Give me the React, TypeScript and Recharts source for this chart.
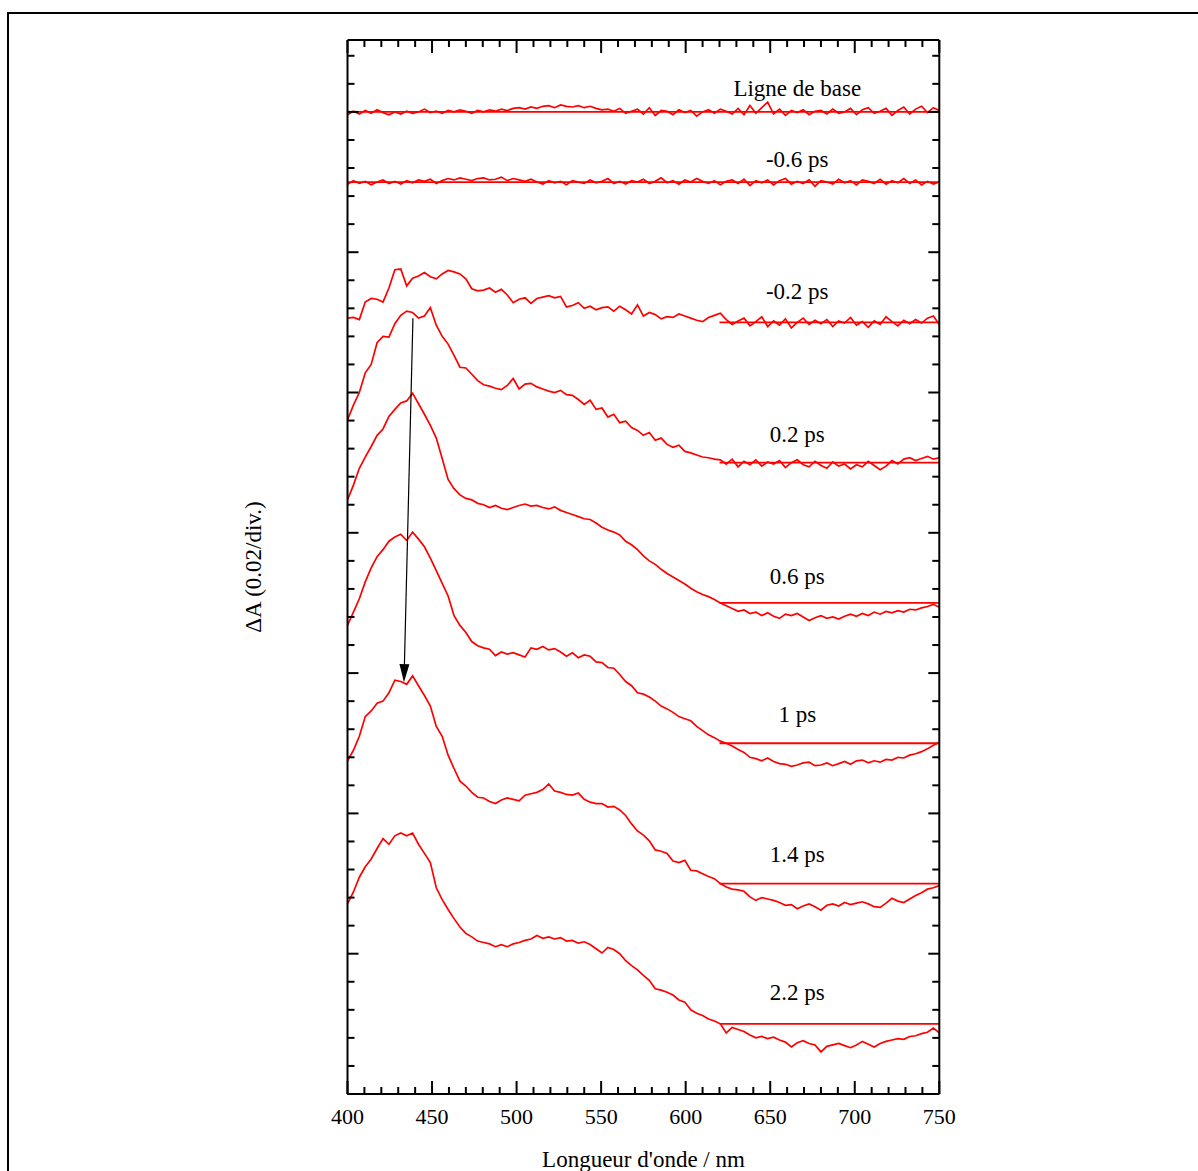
import { Line, LineChart, ReferenceDot, ReferenceLine, XAxis, YAxis } from 'recharts'

// Transient absorption spectra, stacked with a 0.02 offset per delay.
// Values in mOD; offsets in ΔA.

const FONT = '"Liberation Serif", "Times New Roman", serif'
const RED = '#ff0000'

const WL = [
  400, 403.5, 407, 410.5, 414, 417.5, 421, 424.5, 428, 431.5,
  435, 438.5, 442, 445.5, 449, 452.5, 456, 459.5, 463, 466.5,
  470, 473.5, 477, 480.5, 484, 487.5, 491, 494.5, 498, 501.5,
  505, 508.5, 512, 515.5, 519, 522.5, 526, 529.5, 533, 536.5,
  540, 543.5, 547, 550.5, 554, 557.5, 561, 564.5, 568, 571.5,
  575, 578.5, 582, 585.5, 589, 592.5, 596, 599.5, 603, 606.5,
  610, 613.5, 617, 620.5, 624, 627.5, 631, 634.5, 638, 641.5,
  645, 648.5, 652, 655.5, 659, 662.5, 666, 669.5, 673, 676.5,
  680, 683.5, 687, 690.5, 694, 697.5, 701, 704.5, 708, 711.5,
  715, 718.5, 722, 725.5, 729, 732.5, 736, 739.5, 743, 746.5,
  750,
]

const BASELINE = [
  -0.4, 0.1, -0.3, 0.2, -0.2, 0.3, -0.1, -0.4, 0.0, -0.3,
  0.1, -0.2, 0.0, 0.4, -0.1, 0.1, -0.2, 0.2, 0.0, 0.3,
  0.1, -0.2, 0.2, 0.0, 0.3, 0.1, 0.4, 0.2, 0.5, 0.6,
  0.4, 0.7, 0.5, 0.8, 0.9, 0.6, 1.0, 0.8, 0.7, 0.9,
  0.6, 0.8, 0.5, 0.3, 0.4, 0.1, 0.5, -0.2, 0.1, 0.4,
  -0.3, 0.6, -0.5, 0.2, 0.1, -0.4, 0.3, -0.1, 0.2, -0.6,
  0.0, 0.3, -0.2, 0.4, 0.1, -0.3, 0.5, -0.4, 0.9, -0.2,
  0.6, 1.4, -0.3, 0.4, -0.5, 0.2, -0.1, 0.3, -0.4, 0.1,
  0.2, -0.3, 0.4, -0.2, 0.0, 0.5, -0.4, 0.3, 0.6, -0.2,
  0.1, 0.5, -0.5, 0.2, 0.7, -0.3, 0.4, 0.8, -0.1, 0.6,
  0.2,
]

const M06 = [
  -0.3, 0.2, -0.2, 0.1, -0.4, 0.0, 0.3, -0.2, 0.1, -0.3,
  0.2, -0.1, 0.3, 0.1, 0.4, -0.2, 0.2, 0.5, 0.3, 0.6,
  0.4, 0.2, 0.5, 0.6, 0.3, 0.4, 0.7, 0.2, 0.5, 0.3,
  0.1, 0.4, 0.0, -0.3, 0.2, -0.1, 0.1, -0.4, 0.2, 0.0,
  -0.2, 0.3, -0.1, 0.1, 0.5, -0.2, 0.1, -0.3, 0.2, 0.0,
  0.4, -0.2, 0.1, 0.6, -0.1, 0.2, -0.3, 0.3, 0.0, 0.5,
  0.1, -0.2, 0.2, -0.4, 0.1, 0.3, -0.2, 0.4, -0.5, 0.2,
  -0.1, 0.3, -0.4, 0.2, 0.5, -0.3, 0.1, -0.2, 0.3, -0.6,
  0.2, 0.0, -0.3, 0.4, -0.1, 0.2, -0.4, 0.3, 0.1, -0.2,
  0.4, -0.3, 0.2, -0.1, 0.5, -0.2, 0.3, -0.4, 0.1, -0.3,
  0.0,
]

const M02 = [
  0.6, 0.7, 0.4, 2.9, 3.4, 3.3, 2.9, 4.9, 7.5, 7.6,
  5.2, 6.3, 6.6, 7.1, 6.5, 6.2, 6.9, 7.4, 7.2, 6.9,
  6.2, 4.8, 4.5, 4.6, 4.9, 4.3, 4.7, 3.9, 2.8, 3.3,
  3.5, 2.7, 3.4, 3.6, 3.8, 3.5, 3.7, 2.2, 2.4, 2.8,
  2.0, 2.3, 1.8, 2.1, 2.2, 1.6, 2.3, 1.8, 1.2, 2.5,
  0.9, 1.4, 1.1, 0.5, 0.8, 0.7, 1.2, 0.9, 0.6, 0.3,
  0.1, 0.7, 1.0, 1.3, 0.4, -0.3, 0.2, 0.6, -0.5, 0.1,
  0.8, -0.6, 0.2, -0.4, 0.5, -0.8, 0.0, 0.6, -0.3, 0.3,
  -0.2, 0.4, -0.6, 0.2, -0.1, 0.7, -0.4, 0.1, -0.7, 0.2,
  -0.3, 0.8, 0.1, -0.5, 0.3, -0.2, 0.4, -0.1, 0.6, 0.9,
  -0.3,
]

const P02 = [
  6.1, 8.2, 10.0, 12.8, 14.0, 17.1, 18.0, 17.9, 19.8, 21.0,
  21.6, 21.4, 20.6, 20.9, 22.1, 19.6, 18.0, 16.9, 15.3, 13.6,
  13.5, 12.6, 11.7, 11.1, 10.9, 10.6, 10.4, 11.0, 12.0, 10.5,
  11.2, 11.3, 10.8, 10.5, 10.2, 10.0, 10.3, 9.7, 9.6, 9.0,
  8.3, 8.9, 7.6, 7.8, 6.5, 6.9, 5.7, 5.9, 5.0, 4.6,
  3.9, 4.3, 3.2, 3.5, 2.6, 2.2, 2.5, 1.6, 1.4, 1.1,
  0.8, 0.7, 0.5, 0.4, -0.2, 0.5, -0.6, 0.2, -0.3, 0.4,
  -0.5, 0.1, -0.2, 0.3, -0.7, 0.0, 0.4, -0.3, -0.6, 0.2,
  -0.4, -0.8, 0.1, -0.5, -0.2, -0.9, -0.3, -0.6, 0.2, -0.4,
  -1.0, -0.5, 0.3, -0.2, 0.5, 0.7, 0.3, 0.6, 0.9, 0.5,
  0.7,
]

const P06 = [
  14.7, 16.8, 19.2, 20.8, 22.3, 23.9, 24.8, 26.6, 27.6, 28.5,
  28.8, 29.9, 28.4, 26.9, 25.3, 23.5, 20.6, 17.6, 16.3, 15.4,
  14.9, 14.7, 14.2, 14.0, 13.6, 13.9, 13.5, 13.3, 13.6, 13.9,
  14.1, 13.8, 13.9, 13.6, 13.4, 13.7, 13.2, 12.9, 12.6, 12.3,
  12.0, 11.9, 11.4, 10.8, 10.4, 10.1, 9.7, 8.8, 8.3, 7.6,
  6.7, 6.0, 5.5, 4.8, 4.2, 3.7, 3.2, 2.7, 2.1, 1.6,
  1.2, 0.9, 0.5, 0.0, -0.4, -0.8, -1.2, -1.0, -1.5, -1.3,
  -1.8, -1.4, -1.9, -2.2, -1.6, -1.8, -1.5, -2.0, -2.5, -2.1,
  -1.8, -2.2, -2.0, -2.3, -1.9, -1.6, -1.9, -1.5, -1.8, -1.3,
  -1.6, -1.2, -1.4, -1.1, -1.3, -0.9, -1.0, -0.7, -0.5, -0.2,
  -0.6,
]

const P10 = [
  16.8, 18.7, 20.6, 23.0, 25.0, 26.6, 27.6, 28.8, 29.4, 29.8,
  28.9, 30.1, 29.1, 28.0, 26.4, 24.6, 22.8, 21.0, 18.2, 16.8,
  15.8, 14.5, 13.9, 13.6, 13.4, 12.5, 13.0, 12.7, 12.9, 12.6,
  12.3, 13.6, 13.4, 13.8, 13.3, 13.5, 13.0, 12.4, 12.9, 12.2,
  12.6, 12.4, 11.6, 11.5, 10.8, 10.7, 9.8, 8.8, 8.2, 7.2,
  7.0, 6.6, 6.0, 5.3, 4.9, 4.4, 3.8, 3.5, 3.2, 2.4,
  1.8, 1.2, 0.8, 0.3, 0.0, -0.4, -0.9, -1.3, -2.0, -2.2,
  -2.5, -2.1, -2.6, -2.9, -3.0, -3.3, -3.1, -2.8, -2.7, -3.2,
  -3.1, -2.8, -3.2, -2.9, -2.6, -3.0, -2.5, -2.4, -2.8, -2.5,
  -2.7, -2.3, -2.4, -2.0, -2.1, -1.7, -1.5, -1.2, -0.8, -0.3,
  0.1,
]

const P14 = [
  17.5, 19.0, 21.0, 23.8, 24.6, 25.7, 26.0, 27.2, 29.0, 28.8,
  28.4, 29.6, 28.2, 26.8, 25.3, 22.4, 21.0, 18.3, 16.4, 14.6,
  13.9, 13.0, 12.3, 12.2, 11.7, 11.4, 11.9, 12.2, 12.0, 11.8,
  12.6, 12.8, 13.0, 13.4, 14.2, 13.2, 13.0, 12.7, 12.6, 12.9,
  12.0, 11.6, 11.4, 11.4, 10.9, 11.0, 10.5, 9.7, 8.5, 7.5,
  6.9, 6.1, 4.8, 4.6, 4.3, 3.2, 3.0, 3.3, 1.9, 1.8,
  1.4, 1.0, 0.7, 0.0, -0.5, -0.8, -0.9, -1.1, -1.9, -2.4,
  -2.0, -2.2, -2.4, -2.7, -3.1, -3.0, -3.6, -3.2, -2.9, -3.3,
  -3.8, -3.1, -2.9, -3.2, -2.7, -3.0, -2.8, -2.6, -2.9, -3.3,
  -3.4, -2.8, -2.1, -2.5, -2.7, -2.2, -1.7, -1.3, -0.8, -0.6,
  -0.3,
]

const P22 = [
  17.1, 18.8, 20.9, 22.4, 23.5, 25.0, 26.4, 25.6, 26.8, 27.2,
  26.8, 27.2, 25.6, 24.3, 23.0, 19.4, 17.7, 16.3, 15.0, 13.8,
  12.9, 12.4, 11.8, 11.6, 11.4, 11.0, 11.3, 11.0, 11.4, 11.6,
  11.9, 12.1, 12.6, 12.2, 12.4, 12.1, 12.3, 11.8, 11.9, 11.5,
  11.7, 11.3, 10.7, 10.1, 10.9, 10.6, 10.0, 9.0, 8.3, 7.7,
  6.9, 6.2, 5.0, 4.8, 4.5, 4.1, 3.4, 3.1, 2.0, 1.5,
  1.2, 0.7, 0.4, 0.0, -1.3, -0.5, -0.8, -1.1, -1.6, -2.0,
  -1.8, -2.1, -1.9, -2.3, -2.6, -3.3, -2.7, -2.4, -2.8, -3.0,
  -4.0, -3.2, -3.0, -2.8, -3.1, -3.4, -3.0, -2.5, -2.9, -3.3,
  -2.8, -2.5, -2.3, -2.1, -2.2, -1.8, -1.7, -1.4, -1.2, -0.6,
  -1.3,
]

const LABELS = ['Ligne de base', '-0.6 ps', '-0.2 ps', '0.2 ps', '0.6 ps', '1 ps', '1.4 ps', '2.2 ps']
const OFFSETS = [0.14, 0.13, 0.11, 0.09, 0.07, 0.05, 0.03, 0.01]
const ZERO_FROM = [400, 400, 620, 620, 620, 620, 620, 620]
const VALUES = [BASELINE, M06, M02, P02, P06, P10, P14, P22]
const KEYS = ['base', 'm06', 'm02', 'p02', 'p06', 'p10', 'p14', 'p22']

// label anchor (wavelength, ΔA of text baseline)
const LABEL_X = 666
const LABEL_Y = [0.1423, 0.1322, 0.1133, 0.0929, 0.0727, 0.053, 0.0331, 0.0134]

// arrow following the band maximum from 0.2 ps to 1.4 ps
const ARROW = [
  { x: 438.7, y: 0.1106 },
  { x: 433.4, y: 0.0587 },
]

const X_TICKS = [
  400, 410, 420, 430, 440, 450, 460, 470, 480, 490, 500, 510, 520, 530, 540, 550, 560, 570,
  580, 590, 600, 610, 620, 630, 640, 650, 660, 670, 680, 690, 700, 710, 720, 730, 740, 750,
]
const Y_TICKS = [
  0, 0.004, 0.008, 0.012, 0.016, 0.02, 0.024, 0.028, 0.032, 0.036, 0.04, 0.044, 0.048,
  0.052, 0.056, 0.06, 0.064, 0.068, 0.072, 0.076, 0.08, 0.084, 0.088, 0.092, 0.096, 0.1,
  0.104, 0.108, 0.112, 0.116, 0.12, 0.124, 0.128, 0.132, 0.136, 0.14, 0.144, 0.148,
]
const Y_MAX = 0.15025

const rows = WL.map((wl, i) => {
  const row: Record<string, number> = { wl }
  KEYS.forEach((k, s) => {
    row[k] = VALUES[s][i] / 1000 + OFFSETS[s]
  })
  return row
})

const isMajorY = (v: number) => Math.abs(v * 50 - Math.round(v * 50)) < 1e-6

function BottomTick(p: any) {
  const major = p.payload.value % 50 === 0
  return (
    <g>
      <line x1={p.x} x2={p.x} y1={p.y} y2={p.y - (major ? 13 : 7)} stroke="#000" strokeWidth={2} />
      {major && (
        <text x={p.x} y={p.y + 29.5} textAnchor="middle" fontFamily={FONT} fontSize={22} fill="#000">
          {p.payload.value}
        </text>
      )}
    </g>
  )
}

function TopTick(p: any) {
  const major = p.payload.value % 50 === 0
  return <line x1={p.x} x2={p.x} y1={p.y} y2={p.y + (major ? 13 : 7)} stroke="#000" strokeWidth={2} />
}

function LeftTick(p: any) {
  const len = isMajorY(p.payload.value) ? 11 : 7
  return <line x1={p.x} x2={p.x + len} y1={p.y} y2={p.y} stroke="#000" strokeWidth={2} />
}

function RightTick(p: any) {
  const len = isMajorY(p.payload.value) ? 11 : 7
  return <line x1={p.x} x2={p.x - len} y1={p.y} y2={p.y} stroke="#000" strokeWidth={2} />
}

function ArrowShape(p: any) {
  const { x1, y1, x2, y2 } = p
  if ([x1, y1, x2, y2].some((v) => typeof v !== 'number')) return <g />
  const len = Math.hypot(x2 - x1, y2 - y1)
  const ux = (x2 - x1) / len
  const uy = (y2 - y1) / len
  const bx = x2 - ux * 18
  const by = y2 - uy * 18
  const pts = `${x2},${y2} ${bx - uy * 5},${by + ux * 5} ${bx + uy * 5},${by - ux * 5}`
  return (
    <g>
      <line x1={x1} y1={y1} x2={bx} y2={by} stroke="#000" strokeWidth={1.2} />
      <polygon points={pts} fill="#000" />
    </g>
  )
}

const axisLine = { stroke: '#000', strokeWidth: 2 }

export default function App() {
  return (
    <div
      style={{
        position: 'absolute',
        left: 0,
        top: 0,
        width: 1198,
        height: 1171,
        overflow: 'hidden',
        background: '#fff',
      }}
    >
      <div
        style={{
          position: 'absolute',
          left: 7,
          top: 12,
          width: 1400,
          height: 1400,
          borderLeft: '2px solid #000',
          borderTop: '2px solid #000',
        }}
      />
      <div style={{ position: 'absolute', left: 0, top: 0 }}>
        <LineChart
          width={1198}
          height={1171}
          data={rows}
          margin={{ top: 39, right: 257.7, bottom: 76, left: 346.5 }}
        >
          <XAxis
            dataKey="wl"
            type="number"
            domain={[400, 750]}
            ticks={X_TICKS}
            interval={0}
            height={1}
            tickSize={0}
            tickMargin={0}
            tickLine={false}
            axisLine={axisLine}
            tick={BottomTick}
            allowDataOverflow
          />
          <XAxis
            xAxisId="top"
            orientation="top"
            dataKey="wl"
            type="number"
            domain={[400, 750]}
            ticks={X_TICKS}
            interval={0}
            height={1}
            tickSize={0}
            tickMargin={0}
            tickLine={false}
            axisLine={axisLine}
            tick={TopTick}
            allowDataOverflow
          />
          <YAxis
            type="number"
            domain={[0, Y_MAX]}
            ticks={Y_TICKS}
            interval={0}
            width={1}
            tickSize={0}
            tickMargin={0}
            tickLine={false}
            axisLine={axisLine}
            tick={LeftTick}
            allowDataOverflow
          />
          <YAxis
            yAxisId="right"
            orientation="right"
            type="number"
            domain={[0, Y_MAX]}
            ticks={Y_TICKS}
            interval={0}
            width={1}
            tickSize={0}
            tickMargin={0}
            tickLine={false}
            axisLine={axisLine}
            tick={RightTick}
            allowDataOverflow
          />
          {KEYS.map((k) => (
            <Line
              key={k}
              dataKey={k}
              type="linear"
              stroke={RED}
              strokeWidth={1.7}
              dot={false}
              isAnimationActive={false}
            />
          ))}
          {KEYS.map((k, s) => (
            <Line
              key={`${k}-zero`}
              data={[
                { wl: ZERO_FROM[s], v: OFFSETS[s] },
                { wl: 750, v: OFFSETS[s] },
              ]}
              dataKey="v"
              type="linear"
              stroke={RED}
              strokeWidth={1.8}
              dot={false}
              isAnimationActive={false}
            />
          ))}
          <ReferenceLine segment={ARROW} ifOverflow="visible" shape={ArrowShape} />
          {LABELS.map((t, s) => (
            <ReferenceDot
              key={t}
              x={LABEL_X}
              y={LABEL_Y[s]}
              r={0}
              ifOverflow="visible"
              shape={(p: any) => (
                <text x={p.cx} y={p.cy} textAnchor="middle" fontFamily={FONT} fontSize={23} fill="#000">
                  {t}
                </text>
              )}
            />
          ))}
        </LineChart>
      </div>
      <svg
        width={1198}
        height={1171}
        style={{ position: 'absolute', left: 0, top: 0, pointerEvents: 'none' }}
      >
        <text
          transform="translate(261,567) rotate(-90)"
          textAnchor="middle"
          fontFamily={FONT}
          fontSize={23}
          fill="#000"
        >
          ΔA (0.02/div.)
        </text>
        <text x={643.5} y={1167} textAnchor="middle" fontFamily={FONT} fontSize={23} fill="#000">
          Longueur d'onde / nm
        </text>
      </svg>
    </div>
  )
}
